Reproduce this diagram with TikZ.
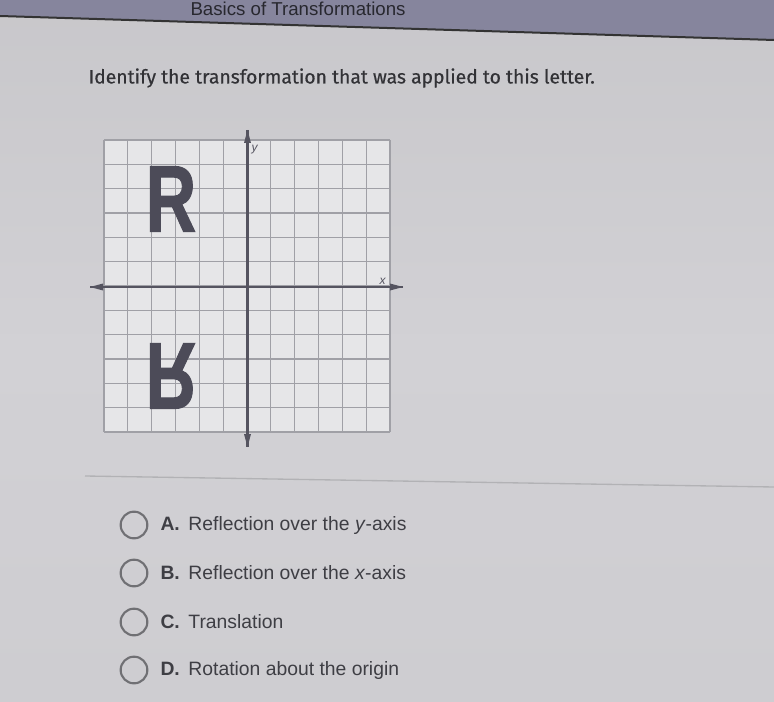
\documentclass[tikz,border=0pt]{standalone}
\usepackage{fontspec}
\setmainfont{Liberation Sans}
\newfontfamily\questionfont[FakeBold=0.5]{Fira Sans}
\newfontfamily\letterfont[FakeBold=1.2]{Liberation Sans Bold}
\definecolor{pagebg}{RGB}{210,209,213}
\definecolor{bandbg}{RGB}{134,133,157}
\definecolor{gridcol}{RGB}{160,160,166}
\definecolor{axiscol}{RGB}{85,84,96}
\definecolor{lettercol}{RGB}{76,75,88}
\definecolor{textcol}{RGB}{62,62,68}
\definecolor{radiocol}{RGB}{112,112,116}
\tikzset{every picture/.style={line width=0.75pt}}
\tikzset{
  gridline/.style={color=gridcol, line width=0.9pt},
  axisline/.style={color=axiscol, line width=1.6pt},
  radio/.style={draw=radiocol, line width=1.6pt, circle, minimum size=20pt, inner sep=0pt},
  optlabel/.style={anchor=west, inner sep=0.75pt, text=textcol, font=\fontsize{14.5}{17}\selectfont},
  bigletter/.style={inner sep=0pt, text=lettercol, font=\letterfont\fontsize{71}{71}\selectfont, xscale=0.74, transform shape}
}

\begin{document}
\begin{tikzpicture}[x=0.75pt,y=0.75pt,yscale=-1,xscale=1]
\useasboundingbox (0,0) rectangle (774,702);

%Shape: Page [id:bg]
\shade [top color=pagebg!88!gray, bottom color=pagebg!95!gray, middle color=pagebg] (0,0) rectangle (774,702);
%Shape: Header band [id:band]
\fill [bandbg] (0,0) -- (774,0) -- (774,40) -- (0,16) -- cycle ;
\draw [color=black!80, line width=1.5pt] (0,16) -- (774,40) ;
% Text Node
\node (hdr) [anchor=base west, inner sep=0pt, text=bandbg!30!black, font=\fontsize{14}{14}\selectfont] at (190,16) {Basics of Transformations};

% Text Node
\node (question) [anchor=west, inner sep=0.75pt, text=textcol!80!black, font=\questionfont\fontsize{14.5}{17}\selectfont] at (87,78) {Identify the transformation that was applied to this letter.};

%Shape: Grid [id:grid]
\fill [color=white!45!pagebg] (104,140) rectangle (390,432) ;
\foreach \i in {0,...,12} {
  \draw [gridline] ({104+\i*23.83},140) -- ({104+\i*23.83},432) ;
  \draw [gridline] (104,{140+\i*24.33}) -- (390,{140+\i*24.33}) ;
}

%Straight Lines [id:xaxis]
\coordinate (xl) at (90,287) ;
\coordinate (xr) at (403,287) ;
\draw [axisline] (xl) -- (xr) ;
\fill [axiscol, shift={(403,287)}, rotate = 0] (0,0) -- (-13,-3.5) -- (-13,3.5) -- cycle ;
\fill [axiscol, shift={(90,287)}, rotate = 180] (0,0) -- (-13,-3.5) -- (-13,3.5) -- cycle ;
%Straight Lines [id:yaxis]
\coordinate (yt) at (247.5,130) ;
\coordinate (yb) at (247.5,447) ;
\draw [axisline] (yt) -- (yb) ;
\fill [axiscol, shift={(247.5,130)}, rotate = 270] (0,0) -- (-13,-3.5) -- (-13,3.5) -- cycle ;
\fill [axiscol, shift={(247.5,447)}, rotate = 90] (0,0) -- (-13,-3.5) -- (-13,3.5) -- cycle ;

% Text Node
\node (ylab) [anchor=north west, inner sep=0pt, text=axiscol, font=\itshape\fontsize{9}{9}\selectfont] at (251,145) {y};
% Text Node
\node (xlab) [anchor=south east, inner sep=0pt, text=axiscol, font=\itshape\fontsize{9}{9}\selectfont] at (386,285) {x};

% Text Node
\node (orig) [bigletter, yscale=-1] at (171,199) {R};
% Text Node
\node (image) [bigletter] at (171,376) {R};

%Straight Lines [id:sep]
\draw [color=pagebg!85!black, line width=1pt] (85,476) -- (774,487) ;

%Shape: Radio buttons
\foreach \k/\yy in {a/525, b/573, c/622, d/670} {
  \node (radio\k) [radio] at (134,\yy) {};
}
% Text Node
\node (optA) [optlabel] at (159,525) {\textbf{A.}\, Reflection over the \textit{y}-axis};
\node (optB) [optlabel] at (159,573) {\textbf{B.}\, Reflection over the \textit{x}-axis};
\node (optC) [optlabel] at (159,622) {\textbf{C.}\, Translation};
\node (optD) [optlabel] at (159,670) {\textbf{D.}\, Rotation about the origin};

\end{tikzpicture}
\end{document}
